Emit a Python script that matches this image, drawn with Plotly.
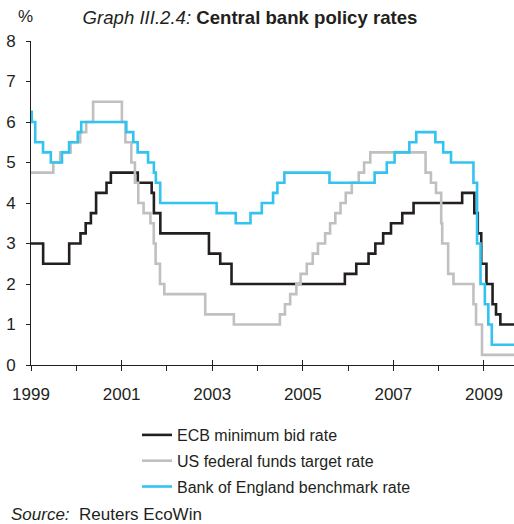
import plotly.graph_objects as go

# Datas de alteração das taxas (degraus) e valores
ecb_datas = ['1999-01-01', '1999-04-09', '1999-11-05', '2000-02-04', '2000-03-17',
             '2000-04-28', '2000-06-09', '2000-09-01', '2000-10-06', '2001-05-11',
             '2001-08-31', '2001-09-18', '2001-11-09', '2002-12-06', '2003-03-07',
             '2003-06-06', '2005-12-06', '2006-03-08', '2006-06-15', '2006-08-09',
             '2006-10-11', '2006-12-13', '2007-03-14', '2007-06-13', '2008-07-09',
             '2008-10-15', '2008-11-12', '2008-12-10', '2009-01-21', '2009-03-11',
             '2009-04-08', '2009-05-13', '2009-08-31']
ecb_taxas = [3.00, 2.50, 3.00, 3.25, 3.50, 3.75, 4.25, 4.50, 4.75, 4.50,
             4.25, 3.75, 3.25, 2.75, 2.50, 2.00, 2.25, 2.50, 2.75, 3.00,
             3.25, 3.50, 3.75, 4.00, 4.25, 3.75, 3.25, 2.50, 2.00, 1.50,
             1.25, 1.00, 1.00]

fed_datas = ['1999-01-01', '1999-06-30', '1999-08-24', '1999-11-16', '2000-02-02',
             '2000-03-21', '2000-05-16', '2001-01-03', '2001-01-31', '2001-03-20',
             '2001-04-18', '2001-05-15', '2001-06-27', '2001-08-21', '2001-09-17',
             '2001-10-02', '2001-11-06', '2001-12-11', '2002-11-06', '2003-06-25',
             '2004-06-30', '2004-08-10', '2004-09-21', '2004-11-10', '2004-12-14',
             '2005-02-02', '2005-03-22', '2005-05-03', '2005-06-30', '2005-08-09',
             '2005-09-20', '2005-11-01', '2005-12-13', '2006-01-31', '2006-03-28',
             '2006-05-10', '2006-06-29', '2007-09-18', '2007-10-31', '2007-12-11',
             '2008-01-22', '2008-01-30', '2008-03-18', '2008-04-30', '2008-10-08',
             '2008-10-29', '2008-12-16', '2009-08-31']
fed_taxas = [4.75, 5.00, 5.25, 5.50, 5.75, 6.00, 6.50, 6.00, 5.50, 5.00,
             4.50, 4.00, 3.75, 3.50, 3.00, 2.50, 2.00, 1.75, 1.25, 1.00,
             1.25, 1.50, 1.75, 2.00, 2.25, 2.50, 2.75, 3.00, 3.25, 3.50,
             3.75, 4.00, 4.25, 4.50, 4.75, 5.00, 5.25, 4.75, 4.50, 4.25,
             3.50, 3.00, 2.25, 2.00, 1.50, 1.00, 0.25, 0.25]

boe_datas = ['1999-01-01', '1999-01-07', '1999-02-04', '1999-04-08', '1999-06-10',
             '1999-09-08', '1999-11-04', '2000-01-13', '2000-02-10', '2001-02-08',
             '2001-04-05', '2001-05-10', '2001-08-02', '2001-09-18', '2001-10-04',
             '2001-11-08', '2003-02-06', '2003-07-10', '2003-11-06', '2004-02-05',
             '2004-05-06', '2004-06-10', '2004-08-05', '2005-08-04', '2006-08-03',
             '2006-11-09', '2007-01-11', '2007-05-10', '2007-07-05', '2007-12-06',
             '2008-02-07', '2008-04-10', '2008-10-08', '2008-11-06', '2008-12-04',
             '2009-01-08', '2009-02-05', '2009-03-05', '2009-08-31']
boe_taxas = [6.25, 6.00, 5.50, 5.25, 5.00, 5.25, 5.50, 5.75, 6.00, 5.75,
             5.50, 5.25, 5.00, 4.75, 4.50, 4.00, 3.75, 3.50, 3.75, 4.00,
             4.25, 4.50, 4.75, 4.50, 4.75, 5.00, 5.25, 5.50, 5.75, 5.50,
             5.25, 5.00, 4.50, 3.00, 2.00, 1.50, 1.00, 0.50, 0.50]

anos = list(range(1999, 2010))
rotulos_anos = [str(a) if a % 2 == 1 else '' for a in anos]

FONTE = 'Liberation Sans, Arial, sans-serif'
COR_TEXTO = '#231f20'

series = [
    ('ECB minimum bid rate', ecb_datas, ecb_taxas, '#231f20'),
    ('US federal funds target rate', fed_datas, fed_taxas, '#c0c0c0'),
    ('Bank of England benchmark rate', boe_datas, boe_taxas, '#33c3f0'),
]

fig = go.Figure()

for nome, datas, taxas, cor in series:
    fig.add_trace(go.Scatter(
        x=datas,
        y=taxas,
        mode='lines',
        name=nome,
        legendgroup=nome,
        line=dict(color=cor, width=2.6, shape='hv'),
    ))

# eixo auxiliar só para as marcas de ano ímpar que cruzam o eixo
fig.add_trace(go.Scatter(x=[], y=[], xaxis='x2', showlegend=False))

fig.update_layout(
    width=514,
    height=524,
    margin=dict(l=31, r=0, t=41, b=159, autoexpand=False),
    paper_bgcolor='white',
    plot_bgcolor='white',
    font=dict(family=FONTE, color=COR_TEXTO, size=16),
    title=dict(
        text='<i>Graph III.2.4:</i> <b>Central bank policy rates</b>',
        x=250 / 514,
        xanchor='center',
        y=1 - 17.5 / 524,
        yanchor='middle',
        font=dict(size=18.6, color=COR_TEXTO),
    ),
    xaxis=dict(
        type='date',
        range=['1999-01-01', '2009-08-31'],
        tickmode='array',
        tickvals=[f'{a}-01-01' for a in anos],
        ticktext=rotulos_anos,
        ticks='outside',
        ticklen=5,
        tickwidth=1,
        tickcolor=COR_TEXTO,
        ticklabelstandoff=9,
        tickfont=dict(size=17),
        showline=True,
        linecolor=COR_TEXTO,
        linewidth=1,
        showgrid=False,
        zeroline=False,
        automargin=False,
    ),
    xaxis2=dict(
        type='date',
        overlaying='x',
        side='bottom',
        range=['1999-01-01', '2009-08-31'],
        tickmode='array',
        tickvals=[f'{a}-01-01' for a in anos if a % 2 == 1],
        showticklabels=False,
        ticks='inside',
        ticklen=5,
        tickwidth=1,
        tickcolor=COR_TEXTO,
        showline=False,
        showgrid=False,
        zeroline=False,
        automargin=False,
    ),
    yaxis=dict(
        range=[0, 8],
        dtick=1,
        ticks='outside',
        ticklen=4,
        tickwidth=1,
        tickcolor=COR_TEXTO,
        ticklabelstandoff=7,
        tickfont=dict(size=17),
        showline=True,
        linecolor=COR_TEXTO,
        linewidth=1,
        showgrid=False,
        zeroline=False,
        automargin=False,
    ),
    showlegend=True,
    legend=dict(
        x=(137 - 31) / 483,
        xanchor='left',
        y=(365 - 418) / 324,
        yanchor='top',
        font=dict(size=16, color=COR_TEXTO),
        tracegroupgap=2,
        bgcolor='rgba(0,0,0,0)',
    ),
    annotations=[
        dict(
            text='%',
            xref='paper', yref='paper',
            x=(25 - 31) / 483, y=(365 - 16) / 324,
            xanchor='center', yanchor='middle',
            showarrow=False,
            font=dict(size=17),
        ),
        dict(
            text='<i>Source:</i>  Reuters EcoWin',
            xref='paper', yref='paper',
            x=(9 - 31) / 483, y=(365 - 514.5) / 324,
            xanchor='left', yanchor='middle',
            showarrow=False,
            font=dict(size=17),
        ),
    ],
)

# tira a margem padrão da página para o gráfico ocupar a janela toda
fig.write_html(
    'out.html',
    config={'displayModeBar': False},
    post_script="document.body.style.margin='0';",
)
